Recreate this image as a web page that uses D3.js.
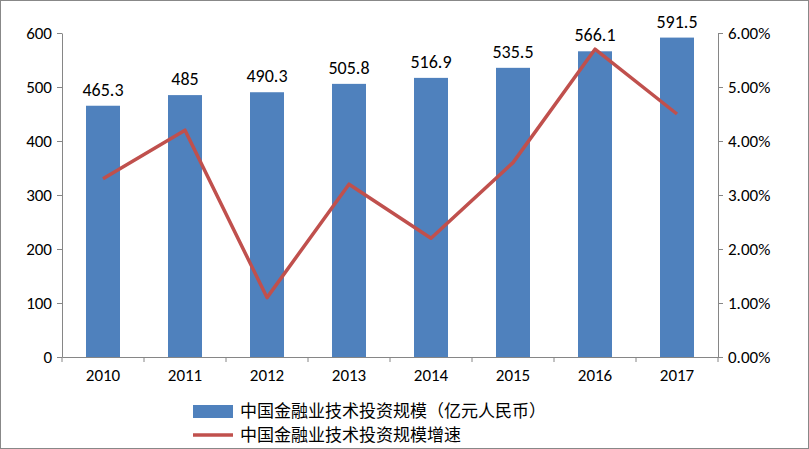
<!DOCTYPE html>
<html><head><meta charset="utf-8">
<script src="https://cdn.jsdelivr.net/npm/d3@7/dist/d3.min.js"></script>
<style>body{margin:0;background:#fff}svg{display:block}</style>
</head><body><svg id="c" width="809" height="449"></svg>
<script>
// 数据
const years = ['2010','2011','2012','2013','2014','2015','2016','2017'];
const scale = [465.3, 485, 490.3, 505.8, 516.9, 535.5, 566.1, 591.5];
const growth = [0.033, 0.042, 0.011, 0.032, 0.022, 0.036, 0.057, 0.045];
const leftTicks = [0, 100, 200, 300, 400, 500, 600];
const rightTicks = [0, 0.01, 0.02, 0.03, 0.04, 0.05, 0.06];

const BLUE = '#4F81BD', RED = '#C0504D';
const font = 'Carlito, "Liberation Sans", "Noto Sans CJK SC", sans-serif';
const svg = d3.select('#c');
const m = { l: 62, r: 718, t: 33, b: 357 };

svg.append('rect').attr('x', 0.5).attr('y', 0.5).attr('width', 808).attr('height', 448)
  .attr('fill', '#fff').attr('stroke', '#888');

const x = d3.scaleBand().domain(years).range([m.l, m.r]);
const y = d3.scaleLinear().domain([0, 600]).range([m.b, m.t]);
const y2 = d3.scaleLinear().domain([0, 0.06]).range([m.b, m.t]);

const g = svg.append('g');
g.selectAll('rect.bar').data(scale).join('rect').attr('class', 'bar')
  .attr('x', (d, i) => x(years[i]) + x.bandwidth() / 2 - 17)
  .attr('width', 34)
  .attr('y', d => y(d)).attr('height', d => m.b - y(d))
  .attr('fill', BLUE);

g.selectAll('text.lbl').data(scale).join('text').attr('class', 'lbl')
  .attr('x', (d, i) => x(years[i]) + x.bandwidth() / 2)
  .attr('y', d => y(d) - 10)
  .attr('text-anchor', 'middle').attr('font-family', font).attr('font-size', 18)
  .text(d => d);

const line = d3.line().x((d, i) => x(years[i]) + x.bandwidth() / 2).y(d => y2(d));
g.append('path').datum(growth).attr('d', line).attr('fill', 'none')
  .attr('stroke', RED).attr('stroke-width', 3.5).attr('stroke-linejoin', 'round');

function style(a) {
  a.selectAll('path,line').attr('stroke', '#868686');
  a.selectAll('text').attr('font-family', font).attr('font-size', 17).attr('fill', '#000');
}
svg.append('g').attr('transform', `translate(${m.l},0)`)
  .call(d3.axisLeft(y).tickValues(leftTicks).tickSize(5).tickSizeOuter(0).tickPadding(5)).call(style);
svg.append('g').attr('transform', `translate(${m.r},0)`)
  .call(d3.axisRight(y2).tickValues(rightTicks).tickFormat(d3.format('.2%')).tickSize(5).tickSizeOuter(0).tickPadding(5)).call(style);
const xa = svg.append('g').attr('transform', `translate(0,${m.b})`)
  .call(d3.axisBottom(x).tickSize(0).tickPadding(12)).call(style);
xa.selectAll('.sep').data(d3.range(years.length + 1)).join('line')
  .attr('x1', i => m.l + i * x.step()).attr('x2', i => m.l + i * x.step())
  .attr('y1', 0).attr('y2', 5).attr('stroke', '#868686');

const lg = svg.append('g');
lg.append('rect').attr('x', 193).attr('y', 405).attr('width', 40).attr('height', 13).attr('fill', BLUE);
lg.append('line').attr('x1', 193).attr('x2', 233).attr('y1', 435).attr('y2', 435).attr('stroke', RED).attr('stroke-width', 3.5);
lg.selectAll('text').data(['中国金融业技术投资规模（亿元人民币）', '中国金融业技术投资规模增速']).join('text')
  .attr('x', 240).attr('y', (d, i) => 417 + i * 24)
  .attr('font-family', '"Noto Sans CJK SC", sans-serif').attr('font-size', 17).text(d => d);
</script></body></html>
